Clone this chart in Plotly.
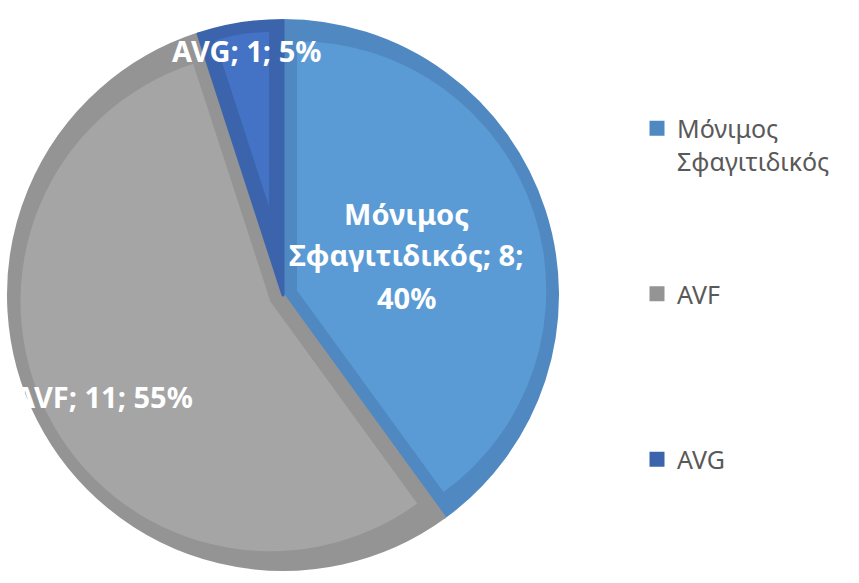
import math
import plotly.graph_objects as go

# ---- data ----
categories = ["Μόνιμος Σφαγιτιδικός", "AVF", "AVG"]
values = [8, 11, 1]

# ---- style ----
fill_colors = ["#5B9BD5", "#A5A5A5", "#4472C4"]
border_colors = ["#5089C1", "#949494", "#3C64AD"]
legend_pad = [0, 3, 1]          # blank lines to spread legend entries
# pixel centre(s) of the data-label lines for each slice
label_lines_pos = [[(406, 213), (406, 254), (406, 297)], [(104, 396)], [(246, 51)]]

W, H = 859, 583
CX, CY = 283, 295
R = 276
BORDER = 14
BORDER_MID = 12
BASE_LINE = 3
FONT = "Noto Sans"
LABEL_SIZE = 29

total = sum(values)
pcts = [round(100 * v / total) for v in values]


def dom(cx, cy, half):
    return dict(x=[(cx - half) / W, (cx + half) / W],
                y=[1 - (cy + half) / H, 1 - (cy - half) / H])


def legend_label(cat, pad, first):
    if first:
        return " <br>" + cat.replace(" ", "<br>")
    blanks = "<br>".join([" "] * pad)
    return blanks + "<br>" + cat + "<br>" + blanks if pad else cat


legend_labels = [legend_label(c, legend_pad[i], i == 0) for i, c in enumerate(categories)]

fig = go.Figure()

# base pie: darker outline colour fills the whole disc
fig.add_trace(go.Pie(
    labels=legend_labels, values=values, sort=False,
    direction="clockwise", rotation=0,
    marker=dict(colors=border_colors, line=dict(color=border_colors, width=BASE_LINE)),
    textinfo="none", hoverinfo="skip",
    domain=dom(CX, CY, R - BASE_LINE / 2), showlegend=True,
))

# lighter inner wedges, pulled so their straight edges sit inside the outline
n = len(values)
for k in range(n):
    half_ang = math.pi * values[k] / total
    p = BORDER / math.sin(half_ang)
    rp = R - BORDER_MID - p
    pull = [0.0] * n
    pull[k] = p / rp
    cols = ["rgba(0,0,0,0)"] * n
    cols[k] = fill_colors[k]
    fig.add_trace(go.Pie(
        labels=legend_labels, values=values, sort=False,
        direction="clockwise", rotation=0, pull=pull,
        marker=dict(colors=cols, line=dict(width=0)),
        textinfo="none", hoverinfo="skip",
        domain=dom(CX, CY, R - BORDER_MID), showlegend=False,
    ))

annotations = []
for k, cat in enumerate(categories):
    positions = label_lines_pos[k]
    if len(positions) == 3:
        first, second = cat.split(" ", 1)
        lines = [first, f"{second}; {values[k]};", f"{pcts[k]}%"]
    else:
        lines = [f"{cat}; {values[k]}; {pcts[k]}%"]
    for txt, (x, y) in zip(lines, positions):
        annotations.append(dict(
            x=x / W, y=1 - y / H, xref="paper", yref="paper",
            text=txt, showarrow=False, xanchor="center", yanchor="middle",
            font=dict(family=FONT, size=LABEL_SIZE, color="white", weight="bold"),
        ))

fig.update_layout(
    width=W, height=H,
    margin=dict(l=0, r=0, t=0, b=0),
    paper_bgcolor="white", plot_bgcolor="white",
    showlegend=True,
    legend=dict(
        x=637 / W, y=1 - 73 / H, xanchor="left", yanchor="top",
        font=dict(family=FONT, size=25, color="#595959"),
        bgcolor="rgba(0,0,0,0)", traceorder="normal",
    ),
    annotations=annotations,
)

fig.write_html("out.html", config={"displayModeBar": False},
               post_script="document.body.style.margin='0px';")
